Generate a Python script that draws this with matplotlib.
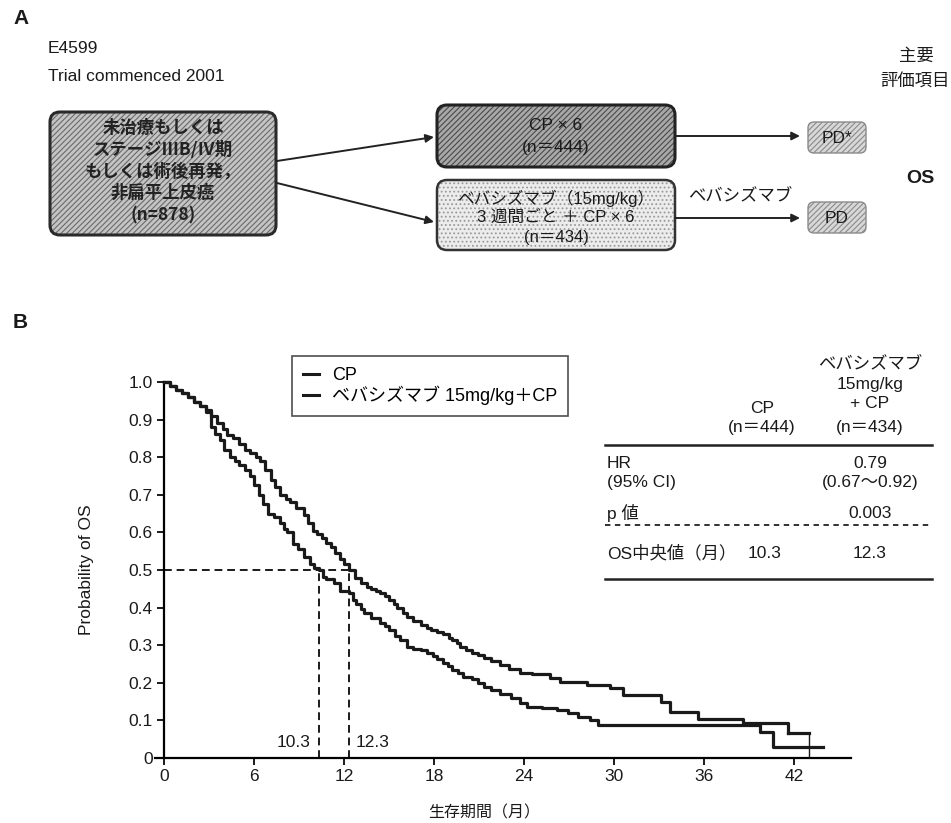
import matplotlib
matplotlib.use('Agg')
import matplotlib.pyplot as plt
from matplotlib.patches import FancyBboxPatch
from matplotlib.lines import Line2D

plt.rcParams['font.family'] = ['Liberation Sans', 'Noto Sans CJK JP', 'DejaVu Sans']
plt.rcParams['hatch.linewidth'] = 0.8

# ---------------- data ----------------
cp_t = [0, 0.4, 0.8, 1.2, 1.6, 2.0, 2.4, 2.8, 3.1, 3.4, 3.7, 4.0, 4.4, 4.7, 5.0, 5.4, 5.7, 6.0,
        6.3, 6.6, 6.9, 7.3, 7.7, 8.0, 8.2, 8.6, 8.9, 9.3, 9.7, 10.0, 10.3, 10.6, 10.8, 11.3, 11.7,
        12.3, 12.6, 12.8, 13.1, 13.3, 13.8, 14.4, 14.7, 15.0, 15.4, 15.7, 16.2, 16.6, 17.1, 17.5,
        17.9, 18.2, 18.6, 18.9, 19.2, 19.6, 19.9, 20.5, 20.9, 21.3, 21.8, 22.4, 23.1, 23.7, 24.2,
        25.2, 26.2, 26.9, 27.6, 28.4, 28.9, 39.7, 40.6, 43.9]
cp_s = [1.0, 0.99, 0.98, 0.97, 0.96, 0.948, 0.935, 0.92, 0.88, 0.862, 0.845, 0.82, 0.80, 0.79,
        0.78, 0.765, 0.75, 0.725, 0.70, 0.675, 0.65, 0.64, 0.625, 0.61, 0.60, 0.57, 0.555, 0.535,
        0.515, 0.505, 0.50, 0.482, 0.475, 0.465, 0.445, 0.44, 0.42, 0.41, 0.395, 0.385, 0.372,
        0.36, 0.35, 0.34, 0.325, 0.315, 0.295, 0.29, 0.287, 0.278, 0.27, 0.262, 0.253, 0.245,
        0.235, 0.225, 0.216, 0.21, 0.20, 0.19, 0.18, 0.17, 0.16, 0.146, 0.136, 0.133, 0.128,
        0.12, 0.11, 0.10, 0.088, 0.07, 0.03, 0.03]

bev_t = [0, 0.4, 0.8, 1.2, 1.6, 2.0, 2.4, 2.8, 3.1, 3.5, 3.9, 4.2, 4.6, 5.0, 5.4, 5.7, 6.1, 6.4,
         6.7, 7.1, 7.4, 7.7, 8.1, 8.4, 8.8, 9.3, 9.6, 9.9, 10.2, 10.5, 10.8, 11.1, 11.4, 11.7,
         12.0, 12.3, 12.7, 13.1, 13.5, 13.8, 14.1, 14.4, 14.7, 15.0, 15.3, 15.5, 15.9, 16.2, 16.6,
         17.1, 17.5, 17.8, 18.2, 18.6, 19.0, 19.2, 19.5, 19.7, 20.1, 20.5, 20.9, 21.3, 21.8, 22.4,
         23.0, 23.7, 24.5, 25.7, 26.4, 28.2, 29.7, 30.6, 33.1, 33.7, 35.6, 38.6, 41.6, 43.0]
bev_s = [1.0, 0.99, 0.98, 0.97, 0.96, 0.948, 0.937, 0.925, 0.91, 0.89, 0.875, 0.86, 0.85, 0.835,
         0.82, 0.81, 0.80, 0.79, 0.765, 0.74, 0.72, 0.70, 0.69, 0.68, 0.665, 0.645, 0.625, 0.605,
         0.595, 0.585, 0.572, 0.56, 0.545, 0.53, 0.515, 0.50, 0.48, 0.465, 0.455, 0.45, 0.445,
         0.44, 0.43, 0.42, 0.41, 0.40, 0.385, 0.375, 0.365, 0.354, 0.345, 0.34, 0.335, 0.33,
         0.32, 0.315, 0.305, 0.296, 0.288, 0.28, 0.273, 0.266, 0.257, 0.247, 0.236, 0.226, 0.224,
         0.213, 0.203, 0.195, 0.185, 0.168, 0.15, 0.122, 0.104, 0.093, 0.067, 0.0]

medians = [10.3, 12.3]
median_labels = ['10.3', '12.3']
x_ticks = [0, 6, 12, 18, 24, 30, 36, 42]
y_ticks = [0, 0.1, 0.2, 0.3, 0.4, 0.5, 0.6, 0.7, 0.8, 0.9, 1.0]
y_ticklabels = ['0', '0.1', '0.2', '0.3', '0.4', '0.5', '0.6', '0.7', '0.8', '0.9', '1.0']
legend_labels = ['CP', 'ベバシズマブ 15mg/kg＋CP']

header_cp = ['CP', '(n＝444)']
header_bev = ['ベバシズマブ', '15mg/kg', '+ CP', '(n＝434)']
row_labels = [['HR', '(95% CI)'], ['p 値'], ['OS中央値（月）']]
row_cp = [[], [], ['10.3']]
row_bev = [['0.79', '(0.67〜0.92)'], ['0.003'], ['12.3']]

TXT = '#1a1a1a'
FS_A = 12.5
FS_T = 12.5
CJK = ['Noto Sans CJK JP', 'DejaVu Sans']

fig = plt.figure(figsize=(9.51, 8.23), dpi=100)

# ---------------- overlay (pixel coords) for panel A & table ----------------
ov = fig.add_axes([0, 0, 1, 1])
ov.set_xlim(0, 951)
ov.set_ylim(823, 0)
ov.axis('off')

ov.text(13, 18, 'A', fontsize=15, fontweight='bold', color=TXT, va='center', ha='left')
ov.text(13, 322, 'B', fontsize=15, fontweight='bold', color=TXT, va='center', ha='left')
ov.text(48, 48, 'E4599', fontsize=FS_A, color=TXT, va='center')
ov.text(48, 76, 'Trial commenced 2001', fontsize=FS_A, color=TXT, va='center')


def hbox(x0, y0, x1, y1, face, hatch, hatchcol, edge, lw, r=10):
    p = FancyBboxPatch((x0, y0), x1 - x0, y1 - y0,
                       boxstyle=f'round,pad=0,rounding_size={r}',
                       facecolor=face, edgecolor=hatchcol, hatch=hatch, linewidth=0)
    ov.add_patch(p)
    b = FancyBboxPatch((x0, y0), x1 - x0, y1 - y0,
                       boxstyle=f'round,pad=0,rounding_size={r}',
                       facecolor='none', edgecolor=edge, linewidth=lw)
    ov.add_patch(b)


# left box
hbox(50, 112, 276, 235, '#c4c4c4', '//////', '#6a6a6a', '#2a2a2a', 2.2)
for txt, y in zip(['未治療もしくは', 'ステージⅢB/Ⅳ期', 'もしくは術後再発，', '非扁平上皮癌', '(n=878)'],
                  [128, 150, 172, 193, 215]):
    ov.text(163, y, txt, fontsize=12.5, fontweight='bold', color='#222222', ha='center',
            va='center', family=CJK)

# middle boxes
hbox(437, 105, 675, 167, '#a8a8a8', '//////', '#4a4a4a', '#222222', 2.2)
ov.text(556, 125, 'CP × 6', fontsize=FS_A, color='#1a1a1a', ha='center', va='center')
ov.text(556, 147, '(n＝444)', fontsize=FS_A, color='#1a1a1a', ha='center', va='center')

hbox(437, 180, 675, 250, '#ececec', '....', '#9a9a9a', '#333333', 1.8)
ov.text(556, 198, 'ベバシズマブ（15mg/kg）', fontsize=12, color='#1a1a1a', ha='center',
        va='center')
ov.text(556, 217, '3 週間ごと ＋ CP × 6', fontsize=12, color='#1a1a1a', ha='center', va='center')
ov.text(556, 237, '(n＝434)', fontsize=12, color='#1a1a1a', ha='center', va='center')

# PD boxes
hbox(808, 122, 866, 153, '#d8d8d8', '//////', '#8a8a8a', '#8a8a8a', 1.0, r=6)
ov.text(837, 138, 'PD*', fontsize=FS_A, color='#1a1a1a', ha='center', va='center')
hbox(808, 202, 866, 233, '#d8d8d8', '//////', '#8a8a8a', '#8a8a8a', 1.0, r=6)
ov.text(837, 218, 'PD', fontsize=FS_A, color='#1a1a1a', ha='center', va='center')

# arrows
arrow_kw = dict(arrowstyle='-|>', color='#222222', lw=1.4, mutation_scale=12, shrinkA=0, shrinkB=0)
ov.annotate('', xy=(434, 137), xytext=(277, 161), arrowprops=arrow_kw)
ov.annotate('', xy=(434, 222), xytext=(277, 183), arrowprops=arrow_kw)
ov.annotate('', xy=(800, 136), xytext=(675, 136), arrowprops=arrow_kw)
ov.annotate('', xy=(800, 218), xytext=(675, 218), arrowprops=arrow_kw)
ov.text(740, 197, 'ベバシズマブ', fontsize=FS_A, color='#1a1a1a', ha='center', va='center')

ov.text(916, 56, '主要', fontsize=FS_A, color=TXT, ha='center', va='center')
ov.text(915, 82, '評価項目', fontsize=FS_A, color=TXT, ha='center', va='center')
ov.text(920, 178, 'OS', fontsize=14, fontweight='bold', color=TXT, ha='center', va='center')

# ---------------- table (right of panel B) ----------------
col_x = [762, 870]
for txt, y in zip(header_cp, [408, 427]):
    ov.text(col_x[0], y, txt, fontsize=FS_T, color=TXT, ha='center', va='center')
for txt, y in zip(header_bev, [365, 384, 403, 427]):
    ov.text(col_x[1], y, txt, fontsize=FS_T, color=TXT, ha='center', va='center')
ov.plot([605, 932], [445, 445], color='#222222', lw=1.8)
row_y = [463, 513, 553]
for labs, cps, bvs, y in zip(row_labels, row_cp, row_bev, row_y):
    for i, t in enumerate(labs):
        ov.text(607, y + 19 * i, t, fontsize=FS_T, color=TXT, ha='left', va='center')
    for i, t in enumerate(cps):
        ov.text(col_x[0] + 3, y + 19 * i, t, fontsize=FS_T, color=TXT, ha='center', va='center')
    for i, t in enumerate(bvs):
        ov.text(col_x[1], y + 19 * i, t, fontsize=FS_T, color=TXT, ha='center', va='center')
ov.plot([605, 932], [525, 525], color='#222222', lw=1.3, ls=(0, (3, 2.5)))
ov.plot([605, 932], [579, 579], color='#222222', lw=1.8)

# ---------------- panel B KM plot ----------------
ax = fig.add_axes([155 / 951, 1 - 758 / 823, (851 - 155) / 951, (758 - 382) / 823])
ax.set_facecolor('none')
ax.set_xlim(-0.6, 45.8)
ax.set_ylim(0, 1.0)

ax.plot(cp_t, cp_s, drawstyle='steps-post', color='#1a1a1a', lw=2.3, clip_on=False, zorder=3)
ax.plot(bev_t[:-1], bev_s[:-1], drawstyle='steps-post', color='#1a1a1a', lw=2.3, clip_on=False,
        zorder=3)
ax.plot([bev_t[-2], bev_t[-1]], [bev_s[-2], bev_s[-2]], color='#1a1a1a', lw=2.3, zorder=3)
ax.vlines(bev_t[-1], bev_s[-1], bev_s[-2], color='#1a1a1a', lw=1.0, zorder=3)

dash = (0, (4, 2.5))
ax.plot([0, max(medians)], [0.5, 0.5], color='#1a1a1a', lw=1.4, ls=dash, zorder=2)
for m in medians:
    ax.plot([m, m], [0, 0.5], color='#1a1a1a', lw=1.4, ls=dash, zorder=2)
ax.text(medians[0] - 0.5, 0.04, median_labels[0], fontsize=12.5, color=TXT, ha='right',
        va='center')
ax.text(medians[1] + 0.5, 0.04, median_labels[1], fontsize=12.5, color=TXT, ha='left',
        va='center')

for s in ['top', 'right']:
    ax.spines[s].set_visible(False)
ax.spines['left'].set_position(('data', 0))
ax.spines['left'].set_linewidth(1.6)
ax.spines['bottom'].set_linewidth(1.6)
ax.spines['left'].set_bounds(0, 1.0)

ax.set_xticks(x_ticks)
ax.set_xticklabels([str(v) for v in x_ticks])
ax.set_yticks(y_ticks)
ax.set_yticklabels(y_ticklabels)
ax.tick_params(axis='both', direction='out', length=5, width=1.4, labelsize=12.5,
               colors='#1a1a1a', pad=3)
ax.set_xlabel('生存期間（月）', fontsize=11.5, color=TXT)
ax.xaxis.set_label_coords((484 - 155) / (851 - 155), -0.125)
ax.set_ylabel('Probability of OS', fontsize=12.5, color=TXT)
ax.yaxis.set_label_coords(-(164 - 103) / (851 - 155), 0.5)

handles = [Line2D([], [], color='#1a1a1a', lw=2.2) for _ in legend_labels]
fig.legend(handles, legend_labels, loc='upper left', bbox_to_anchor=(292 / 951, 1 - 356 / 823),
           borderaxespad=0, fontsize=13, frameon=True, fancybox=False, edgecolor='#222222',
           handlelength=0.9, handletextpad=0.7, labelspacing=0.1, borderpad=0.6)
fig.legends[0].get_frame().set_linewidth(1.2)

fig.savefig('out.png', dpi=100, facecolor='white')
